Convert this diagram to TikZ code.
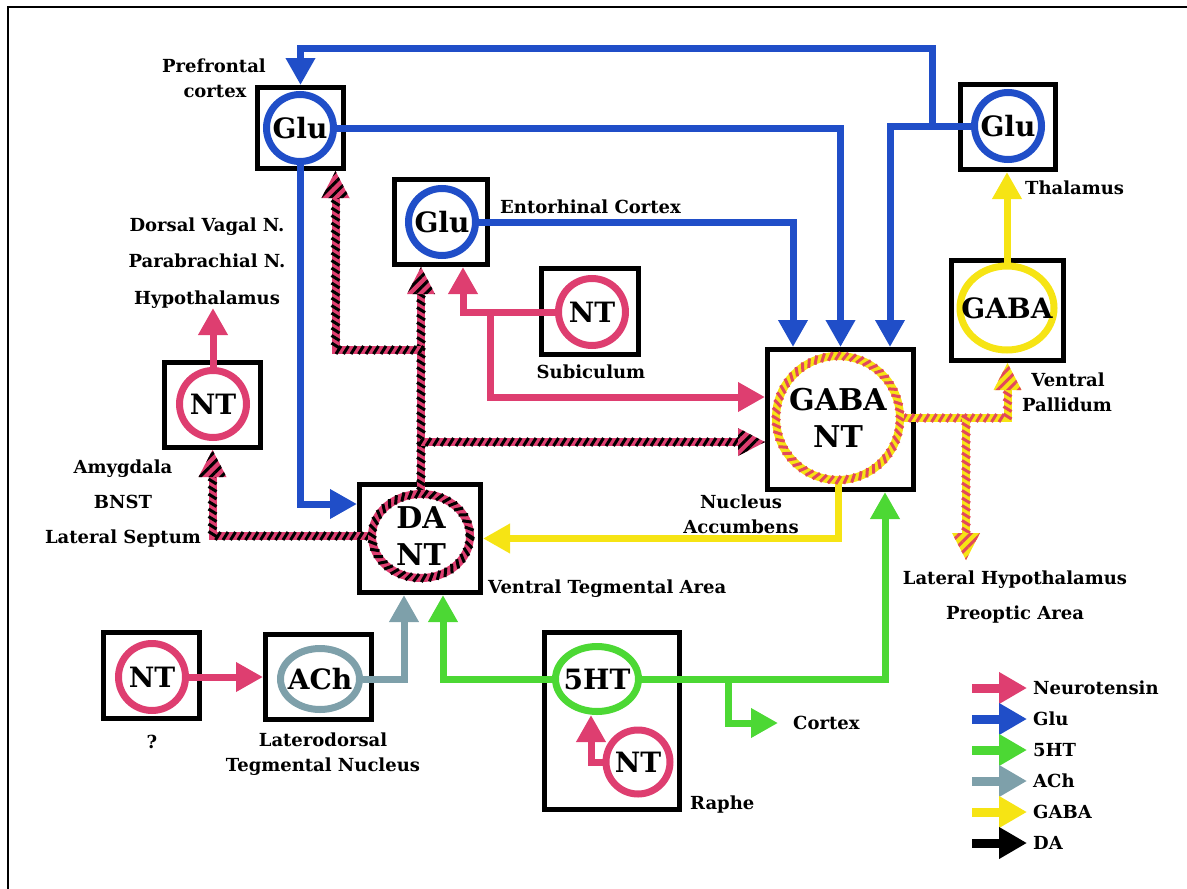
\documentclass[tikz,border=0pt]{standalone}
\usepackage{fontspec}
\setmainfont{DejaVu Serif}
\usetikzlibrary{arrows.meta,calc,decorations.markings,patterns.meta,shapes.geometric}
\definecolor{ntpink}{RGB}{222,62,112}
\definecolor{glublue}{RGB}{32,78,200}
\definecolor{htgreen}{RGB}{76,216,52}
\definecolor{achgrey}{RGB}{126,160,170}
\definecolor{gabay}{RGB}{246,228,20}
\definecolor{stred}{RGB}{226,72,92}
\newcommand\labfont{\bfseries\fontsize{18}{21}\selectfont}
\newcommand\cfont{\bfseries\fontsize{28}{37}\selectfont}
\newcommand\cfontb{\bfseries\fontsize{30}{37}\selectfont}
\newcommand\stip[4]{%
  \begin{scope}[shift={(#1)},rotate=#2]
    \fill[#3] (0pt,0pt) -- (-27pt,14pt) -- (-27pt,-14pt) -- cycle;
    \fill[pattern={Lines[angle=45,distance=7.5pt,line width=3pt]},pattern color=#4]
      (0pt,0pt) -- (-27pt,14pt) -- (-27pt,-14pt) -- cycle;
  \end{scope}}
\tikzset{
  box/.style={rectangle,draw=black,line width=5pt,inner sep=0pt},
  ring/.style={circle,line width=7pt,inner sep=0pt,minimum size=67pt,font=\cfont},
  oval/.style={ellipse,line width=7pt,inner sep=0pt},
  ctext/.style={font=\cfont,inner sep=0pt,align=center},
  lab/.style={font=\labfont,inner sep=0pt,anchor=base},
  labl/.style={lab,anchor=base west},
  con/.style={line width=7pt,-{Triangle[width=28pt,length=27pt]}},
  glu/.style={con,draw=glublue},
  nt/.style={con,draw=ntpink},
  ht/.style={con,draw=htgreen},
  ach/.style={con,draw=achgrey},
  gaba/.style={con,draw=gabay},
  leg/.style={line width=9pt,-{Triangle[width=30pt,length=28pt]}},
  dastripe/.style={line width=8pt,draw=ntpink,shorten >=22pt,
    postaction={decorate,decoration={markings,
      mark=between positions 0 and -22pt step 7.5pt with
      {\draw[black,line width=3pt,shorten >=0pt,shorten <=0pt,-] (-2.5pt,-4pt) -- (2.5pt,4pt);}}}},
  gnstripe/.style={line width=8pt,draw=gabay,shorten >=22pt,
    postaction={decorate,decoration={markings,
      mark=between positions 0 and -22pt step 7.5pt with
      {\draw[stred,line width=3pt,shorten >=0pt,shorten <=0pt,-] (-2.5pt,-4pt) -- (2.5pt,4pt);}}}},
  daring/.style={line width=8pt,draw=ntpink,
    postaction={decorate,decoration={markings,
      mark=between positions 0 and 1 step 7.5pt with
      {\draw[black,line width=3pt] (-2.5pt,-4pt) -- (2.5pt,4pt);}}}},
  gnring/.style={line width=8pt,draw=gabay,
    postaction={decorate,decoration={markings,
      mark=between positions 0 and 1 step 7.5pt with
      {\draw[stred,line width=3pt] (-2.5pt,-4pt) -- (2.5pt,4pt);}}}},
}
\begin{document}
\begin{tikzpicture}[x=1pt,y=-1pt]
\useasboundingbox (0,0) rectangle (1187,889);
\draw[line width=1.5pt] (8,889) -- (8,7) -- (1187,7);
% boxes
\node[box,minimum width=86pt,minimum height=81pt] (pfcbox) at (300.5,128) {};
\node[box,minimum width=95pt,minimum height=85pt] (thalbox) at (1008,127) {};
\node[box,minimum width=93pt,minimum height=85pt] (entbox) at (441,222) {};
\node[box,minimum width=97pt,minimum height=86pt] (subbox) at (590,311.5) {};
\node[box,minimum width=112pt,minimum height=100pt] (vpbox) at (1007.5,310.5) {};
\node[box,minimum width=146pt,minimum height=140pt] (naccbox) at (840.5,419.5) {};
\node[box,minimum width=96pt,minimum height=85pt] (amybox) at (212.5,405) {};
\node[box,minimum width=121pt,minimum height=108pt] (vtabox) at (420,538.5) {};
\node[box,minimum width=96pt,minimum height=86pt] (qbox) at (151.5,675.5) {};
\node[box,minimum width=106pt,minimum height=85pt] (achbox) at (318.5,677) {};
\node[box,minimum width=135pt,minimum height=177pt] (raphebox) at (612,721) {};
% cell bodies
\node[ring,draw=glublue] (pfcc) at (300,128) {Glu};
\node[ring,draw=glublue] (thalc) at (1008,126) {Glu};
\node[ring,draw=glublue] (entc) at (442,222) {Glu};
\node[ring,draw=ntpink] (subc) at (592,312) {NT};
\node[ring,draw=ntpink] (amyc) at (213,404) {NT};
\node[ring,draw=ntpink] (qc) at (152,677) {NT};
\node[ring,draw=ntpink,minimum size=64pt] (rntc) at (638,762) {NT};
\node[oval,draw=htgreen,minimum width=83pt,minimum height=65pt,label={[ctext]center:5HT}] (htc) at (597,679) {};
\node[oval,draw=achgrey,minimum width=79pt,minimum height=61pt,label={[ctext]center:ACh}] (achc) at (320,679) {};
\node[oval,draw=gabay,minimum width=94pt,minimum height=84pt,label={[ctext]center:GABA}] (vpc) at (1007,308) {};
\node[ellipse,inner sep=0pt,outer sep=4pt,minimum width=98pt,minimum height=84pt,label={[ctext,font=\cfontb]center:DA\\NT}] (vtac) at (421,536) {};
\node[circle,inner sep=0pt,outer sep=4pt,minimum size=124pt,label={[ctext,font=\cfontb]center:GABA\\NT}] (naccc) at (838,418) {};
% free ends
\coordinate (hyp) at (213,308);
\coordinate (cortex) at (778,723);
\coordinate (lh) at (966,560);
% glutamate
\draw[glu] (thalc.west) -| ($(naccbox.north)+(49.5,0)$);
\draw[glu] (thalc.west -| 932,0) |- (pfcbox.north |- 0,48) -- (pfcbox.north);
\draw[glu] (pfcc.east) -| (naccbox.north);
\draw[glu] (entc.east) -| ($(naccbox.north)+(-47.5,0)$);
\draw[glu] (pfcc.south) |- ($(vtabox.west)+(0,-34.5)$);
% neurotensin
\draw[nt] (amyc.north) -- (hyp);
\draw[nt] (subc.west) -| ($(entbox.south)+(22,0)$);
\draw[nt] (subc.west -| 490,0) |- ($(naccbox.west)+(0,-22.5)$);
\draw[nt] (qc.east) -- (achbox.west);
\draw[nt] (rntc.west) -| ($(htc.south)+(-6,0)$);
% serotonin
\draw[ht] (htc.west) -| ($(vtabox.south)+(23,0)$);
\draw[ht] (htc.east) -| ($(naccbox.south)+(44.5,0)$);
\draw[ht] (htc.east -| 728,0) |- (cortex);
% acetylcholine
\draw[ach] (achc.east) -| ($(vtabox.south)+(-16,0)$);
% GABA
\draw[gaba] (vpc.north) -- (vpc.north |- thalbox.south);
\draw[gaba] (naccc.south) |- (vtabox.east);
% DA / NT striped
\draw[dastripe] (vtac.north) -- (vtac.north |- entbox.south) coordinate (t1);
\stip{t1}{90}{ntpink}{black}
\draw[dastripe] (vtac.north |- 0,350) -| ($(pfcbox.south)+(35,0)$) coordinate (t2);
\stip{t2}{90}{ntpink}{black}
\draw[dastripe] (vtac.north |- 0,442) -- (naccbox.west |- 0,442) coordinate (t3);
\stip{t3}{0}{ntpink}{black}
\draw[dastripe] (vtac.west) -| (amybox.south) coordinate (t4);
\stip{t4}{90}{ntpink}{black}
\draw[daring] (vtac.center) ellipse (49pt and 42pt);
% GABA / NT striped
\draw[gnstripe] (naccc.east) -| (vpbox.south) coordinate (t5);
\stip{t5}{90}{gabay}{stred}
\draw[gnstripe] (lh |- naccc.east) -- (lh);
\stip{lh}{-90}{gabay}{stred}
\draw[gnring] (naccc.center) circle (62pt);
% labels
\node[lab] (lpf1) at (214,72) {Prefrontal};
\node[lab] (lpf2) at (215,97) {cortex};
\node[lab] (ldv) at (207,231) {Dorsal Vagal N.};
\node[lab] (lpb) at (207,267) {Parabrachial N.};
\node[lab] (lhy) at (207,304) {Hypothalamus};
\node[labl] (lent) at (500,213) {Entorhinal Cortex};
\node[labl] (lth) at (1025,194) {Thalamus};
\node[lab] (lsub) at (591,378) {Subiculum};
\node[lab] (lvp1) at (1068,386) {Ventral};
\node[lab] (lvp2) at (1067,411) {Pallidum};
\node[lab] (lam) at (123,473) {Amygdala};
\node[lab] (lbn) at (123,508) {BNST};
\node[lab] (lls) at (123,543) {Lateral Septum};
\node[lab] (lna1) at (741,508) {Nucleus};
\node[lab] (lna2) at (741,533) {Accumbens};
\node[labl] (lvta) at (488,593) {Ventral Tegmental Area};
\node[lab] (llh) at (1015,584) {Lateral Hypothalamus};
\node[lab] (lpo) at (1015,619) {Preoptic Area};
\node[lab] (lq) at (152,748) {?};
\node[lab] (lld1) at (323,746) {Laterodorsal};
\node[lab] (lld2) at (323,771) {Tegmental Nucleus};
\node[labl] (lcx) at (793,729) {Cortex};
\node[labl] (lra) at (690,809) {Raphe};
% legend
\node[labl] (lg1) at (1033,694) {Neurotensin};
\node[labl] (lg2) at (1033,725) {Glu};
\node[labl] (lg3) at (1033,756) {5HT};
\node[labl] (lg4) at (1033,787) {ACh};
\node[labl] (lg5) at (1033,818) {GABA};
\node[labl] (lg6) at (1033,849) {DA};
\draw[leg,draw=ntpink] ($(lg1.base west)+(-61,-6)$) -- ($(lg1.base west)+(-6,-6)$);
\draw[leg,draw=glublue] ($(lg2.base west)+(-61,-6)$) -- ($(lg2.base west)+(-6,-6)$);
\draw[leg,draw=htgreen] ($(lg3.base west)+(-61,-6)$) -- ($(lg3.base west)+(-6,-6)$);
\draw[leg,draw=achgrey] ($(lg4.base west)+(-61,-6)$) -- ($(lg4.base west)+(-6,-6)$);
\draw[leg,draw=gabay] ($(lg5.base west)+(-61,-6)$) -- ($(lg5.base west)+(-6,-6)$);
\draw[leg,draw=black] ($(lg6.base west)+(-61,-6)$) -- ($(lg6.base west)+(-6,-6)$);
\end{tikzpicture}
\end{document}
